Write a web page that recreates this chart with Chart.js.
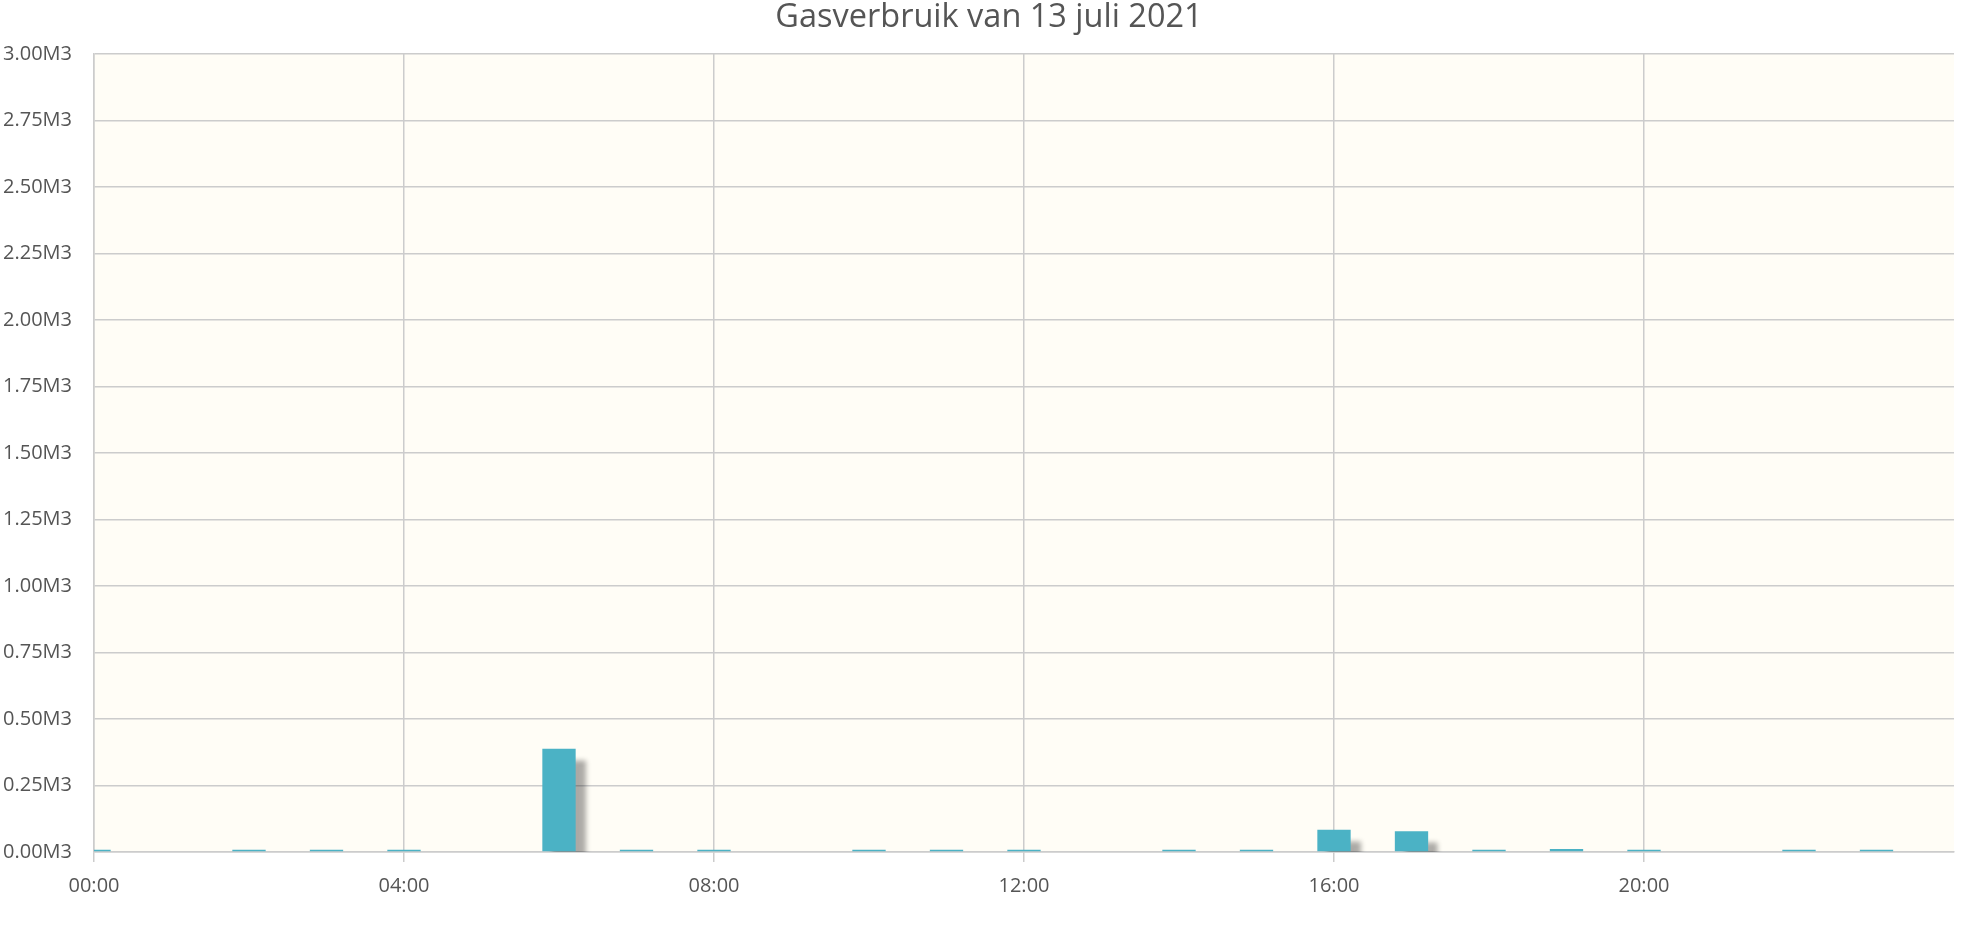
<!DOCTYPE html>
<html lang="nl">

<head>
    <meta charset="UTF-8">
    <title>Gasverbruik</title>
    <script src="https://cdn.jsdelivr.net/npm/chart.js@4.4.0/dist/chart.umd.min.js"></script>
    <style>
        html,
        body {
            margin: 0;
            padding: 0;
            background: #ffffff;
        }

        .chart-box {
            position: relative;
            width: 1966px;
            height: 928px;
        }
    </style>
</head>

<body>
    <div class="chart-box">
        <canvas id="gasChart"></canvas>
    </div>
    <script>
        // uren van de dag (bar staat midden op het uur)
        const hours = [0, 1, 2, 3, 4, 5, 6, 7, 8, 9, 10, 11, 12, 13, 14, 15, 16, 17, 18, 19, 20, 21, 22, 23];
        const usage = [0.008, 0, 0.008, 0.008, 0.008, 0, 0.388, 0.008, 0.008, 0, 0.008, 0.008,
            0.008, 0, 0.008, 0.008, 0.084, 0.078, 0.008, 0.011, 0.008, 0, 0.008, 0.008];
        // labels op de x-as, elke 4 uur
        const xTickLabels = ['00:00', '04:00', '08:00', '12:00', '16:00', '20:00'];
        const chartTitle = 'Gasverbruik van 13 juli 2021';

        const gridColor = '#cccccc';
        const textColor = '#555555';
        const fontFamily = "'Open Sans', 'DejaVu Sans', sans-serif";

        // achtergrond van het plotvlak
        const plotBackground = {
            id: 'plotBackground',
            beforeDraw(chart) {
                const { ctx, chartArea } = chart;
                ctx.save();
                ctx.fillStyle = '#fffdf6';
                ctx.fillRect(chartArea.left, chartArea.top, chartArea.right - chartArea.left, chartArea.bottom - chartArea.top);
                ctx.restore();
            }
        };

        // titel iets rechts van het midden, zoals in het origineel
        const titleShift = {
            id: 'titleShift',
            afterLayout(chart) {
                if (chart.titleBlock) {
                    chart.titleBlock.left += 23;
                }
            }
        };

        // schaduw achter de staven, zoals jqPlot dat doet
        const barShadow = {
            id: 'barShadow',
            beforeDatasetsDraw(chart) {
                const ctx = chart.ctx;
                ctx.save();
                ctx.shadowColor = 'rgba(0, 0, 0, 0.33)';
                ctx.shadowBlur = 5;
                ctx.shadowOffsetX = 10;
                ctx.shadowOffsetY = 11;
            },
            afterDatasetsDraw(chart) {
                chart.ctx.restore();
            }
        };

        const points = hours.map((h, i) => ({ x: h, y: usage[i] }));

        const ctx = document.getElementById('gasChart').getContext('2d');
        const gasChart = new Chart(ctx, {
            type: 'bar',
            data: {
                datasets: [{
                    label: 'Gas',
                    data: points,
                    backgroundColor: '#4bb2c5',
                    borderWidth: 0,
                    categoryPercentage: 1,
                    barPercentage: 0.43
                }]
            },
            options: {
                responsive: true,
                maintainAspectRatio: false,
                animation: false,
                layout: {
                    padding: { left: 0, right: 11, top: 0, bottom: 18 }
                },
                plugins: {
                    legend: { display: false },
                    tooltip: { enabled: false },
                    title: {
                        display: true,
                        text: chartTitle,
                        color: textColor,
                        font: { family: fontFamily, size: 32.5, weight: 'normal', lineHeight: 1 },
                        padding: { top: 1.5, bottom: 20 }
                    }
                },
                scales: {
                    x: {
                        type: 'linear',
                        min: 0,
                        max: 24,
                        offset: false,
                        grid: {
                            offset: false,
                            lineWidth: 1.5,
                            color: (c) => c.tick && c.tick.value === 24 ? 'rgba(0,0,0,0)' : gridColor,
                            tickColor: (c) => c.tick && c.tick.value === 24 ? 'rgba(0,0,0,0)' : gridColor,
                            tickLength: 10,
                            drawTicks: true
                        },
                        border: { color: gridColor, width: 1.5 },
                        ticks: {
                            stepSize: 4,
                            padding: 12,
                            maxRotation: 0,
                            color: textColor,
                            font: { family: fontFamily, size: 20 },
                            callback: (v) => xTickLabels[v / 4] || ''
                        }
                    },
                    y: {
                        min: 0,
                        max: 3,
                        grid: {
                            color: gridColor,
                            lineWidth: 1.5,
                            drawTicks: false
                        },
                        border: { color: gridColor, width: 1.5 },
                        ticks: {
                            stepSize: 0.25,
                            padding: 22,
                            color: textColor,
                            font: { family: fontFamily, size: 20 },
                            callback: (v) => v.toFixed(2) + 'M3'
                        },
                        afterFit: (scale) => { scale.width = 94; }
                    }
                }
            },
            plugins: [plotBackground, titleShift, barShadow]
        });
    </script>
</body>

</html>
